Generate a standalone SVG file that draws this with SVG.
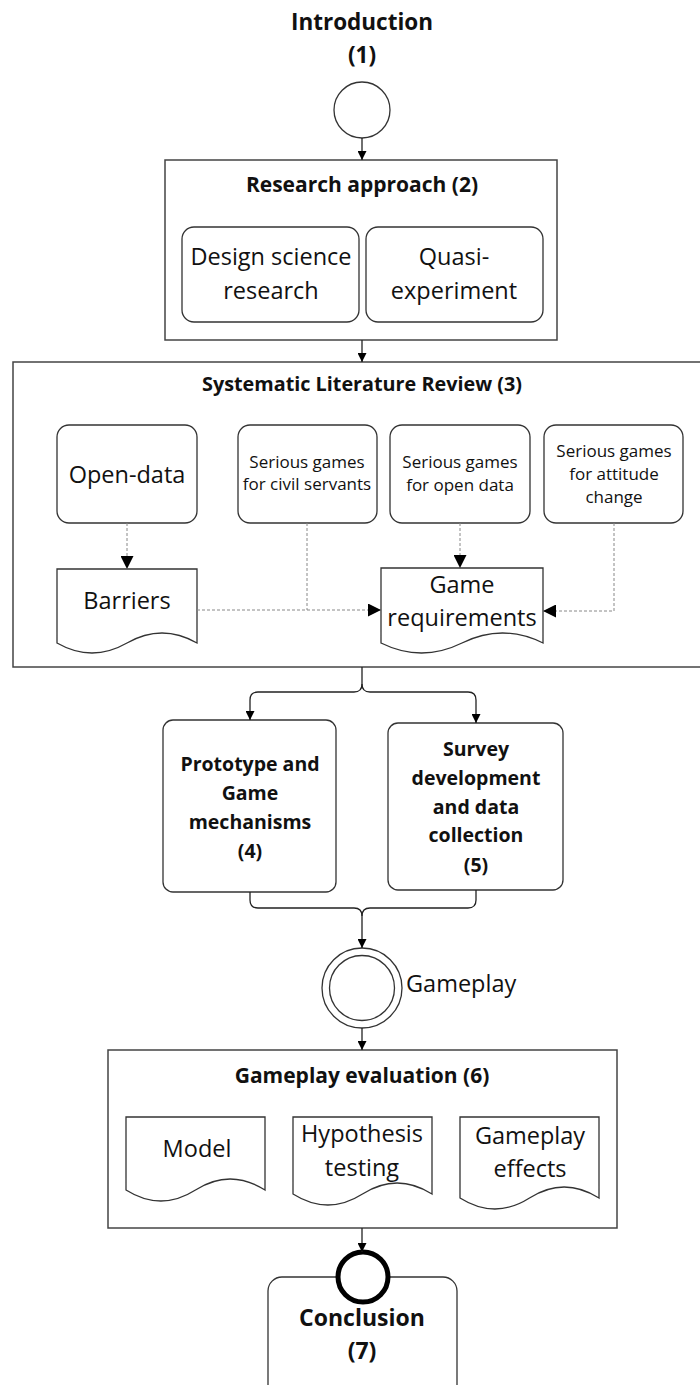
<svg xmlns="http://www.w3.org/2000/svg" width="700" height="1385" viewBox="0 0 700 1385">
  <defs>
    <marker id="arr" viewBox="0 0 10 10" refX="10" refY="5" markerWidth="9" markerHeight="9" markerUnits="userSpaceOnUse" orient="auto">
      <path d="M0,0 L10,5 L0,10 Z" fill="#000"/>
    </marker>
    <marker id="arrL" viewBox="0 0 10 10" refX="10" refY="5" markerWidth="13" markerHeight="13" markerUnits="userSpaceOnUse" orient="auto">
      <path d="M0,0 L10,5 L0,10 Z" fill="#000"/>
    </marker>
  </defs>
  <style>
    text { font-family: "Open Sans", "Noto Sans", "Liberation Sans", sans-serif; fill: #111; text-anchor: middle; }
    .b { font-weight: bold; }
    .h { font-size: 21px; }
    .t { font-size: 19.5px; }
    .m { font-size: 23.5px; }
    .s { font-size: 17px; }
    .frame { fill: #fff; stroke: #444; stroke-width: 1.5; }
    .box { fill: #fff; stroke: #333; stroke-width: 1.3; }
    .flow { fill: none; stroke: #222; stroke-width: 1.3; }
    .dash { fill: none; stroke: #888; stroke-width: 1; stroke-dasharray: 3 2; }
  </style>
  <rect width="700" height="1385" fill="#fff"/>

  <!-- 1 introduction -->
  <g id="intro">
    <text class="b" x="362" y="30" font-size="22.5">Introduction</text>
    <text class="b" x="362" y="63" font-size="22.5">(1)</text>
    <circle cx="362" cy="110" r="28" class="box"/>
  </g>

  <!-- 2 research approach -->
  <g id="research-approach">
    <rect x="165" y="160" width="392" height="180" class="frame"/>
    <text class="b h" x="362" y="192">Research approach (2)</text>
    <rect x="182" y="227" width="177" height="95" rx="12" class="box"/>
    <text class="m" x="271" y="265">Design science</text>
    <text class="m" x="271" y="299">research</text>
    <rect x="366" y="227" width="177" height="95" rx="12" class="box"/>
    <text class="m" x="454" y="265">Quasi-</text>
    <text class="m" x="454" y="299">experiment</text>
  </g>

  <!-- 3 systematic literature review -->
  <g id="slr">
    <rect x="13" y="362" width="700" height="305" class="frame"/>
    <text class="b" font-size="19.8" x="362" y="391">Systematic Literature Review (3)</text>
  </g>
  <g id="open-data">
    <rect x="57" y="425" width="140" height="98" rx="12" class="box"/>
    <text class="m" x="127" y="483">Open-data</text>
  </g>
  <g id="sg-civil">
    <rect x="238" y="425" width="139" height="98" rx="12" class="box"/>
    <text class="s" x="307" y="468">Serious games</text>
    <text class="s" x="307" y="490">for civil servants</text>
  </g>
  <g id="sg-open-data">
    <rect x="390" y="425" width="140" height="98" rx="12" class="box"/>
    <text class="s" x="460" y="468">Serious games</text>
    <text class="s" x="460" y="491">for open data</text>
  </g>
  <g id="sg-attitude">
    <rect x="544" y="425" width="139" height="98" rx="12" class="box"/>
    <text class="s" x="614" y="457">Serious games</text>
    <text class="s" x="614" y="480">for attitude</text>
    <text class="s" x="614" y="503">change</text>
  </g>
  <g id="barriers">
    <path d="M57,569 H197 V643 Q162,623 127,643 T57,643 Z" class="box"/>
    <text class="m" x="127" y="609">Barriers</text>
  </g>
  <g id="game-requirements">
    <path d="M381,568 H543 V643 Q502.5,623 462,643 T381,643 Z" class="box"/>
    <text class="m" x="462" y="593">Game</text>
    <text class="m" x="462" y="626">requirements</text>
  </g>

  <!-- 4 / 5 -->
  <g id="prototype">
    <rect x="163" y="720" width="173" height="172" rx="10" class="box"/>
    <text class="b t" x="250" y="771">Prototype and</text>
    <text class="b t" x="250" y="800">Game</text>
    <text class="b t" x="250" y="829">mechanisms</text>
    <text class="b t" x="250" y="858">(4)</text>
  </g>
  <g id="survey">
    <rect x="388" y="723" width="175" height="167" rx="10" class="box"/>
    <text class="b t" x="476" y="756">Survey</text>
    <text class="b t" x="476" y="785">development</text>
    <text class="b t" x="476" y="814">and data</text>
    <text class="b t" x="476" y="842">collection</text>
    <text class="b t" x="476" y="872">(5)</text>
  </g>

  <!-- gameplay event -->
  <g id="gameplay">
    <circle cx="362" cy="988" r="40" class="box"/>
    <circle cx="362" cy="988" r="32.5" class="box"/>
    <text class="m" x="406" y="992" style="text-anchor:start">Gameplay</text>
  </g>

  <!-- 6 gameplay evaluation -->
  <g id="gameplay-evaluation">
    <rect x="108" y="1050" width="509" height="178" class="frame"/>
    <text class="b h" x="362" y="1083">Gameplay evaluation (6)</text>
  </g>
  <g id="model">
    <path d="M126,1117 H265 V1190 Q230,1168 195.5,1190 T126,1190 Z" class="box"/>
    <text class="m" x="197" y="1157">Model</text>
  </g>
  <g id="hypothesis">
    <path d="M293,1117 H432 V1194 Q397,1172 362.5,1194 T293,1194 Z" class="box"/>
    <text class="m" x="362" y="1142">Hypothesis</text>
    <text class="m" x="362" y="1176">testing</text>
  </g>
  <g id="effects">
    <path d="M460,1117 H599 V1198 Q564,1176 529.5,1198 T460,1198 Z" class="box"/>
    <text class="m" x="530" y="1144">Gameplay</text>
    <text class="m" x="530" y="1177">effects</text>
  </g>

  <!-- 7 conclusion -->
  <g id="conclusion">
    <rect x="268" y="1277" width="189" height="130" rx="14" class="box"/>
    <circle cx="363" cy="1277" r="25" fill="#fff" stroke="#000" stroke-width="5"/>
    <text class="b" font-size="23" x="362" y="1326">Conclusion</text>
    <text class="b" font-size="23" x="362" y="1359">(7)</text>
  </g>

  <!-- connectors -->
  <g id="connectors">
    <path d="M362,138 V160" class="flow" marker-end="url(#arr)"/>
    <path d="M362,340 V362" class="flow" marker-end="url(#arr)"/>
    <!-- dotted links inside the review -->
    <path d="M127,523 V569" class="dash" marker-end="url(#arrL)"/>
    <path d="M460,523 V568" class="dash" marker-end="url(#arrL)"/>
    <path d="M614,523 V611 H543" class="dash" marker-end="url(#arrL)"/>
    <path d="M197,610 H381" class="dash" marker-end="url(#arrL)"/>
    <path d="M307,523 V610" class="dash"/>
    <!-- split to 4 and 5 -->
    <path d="M362,667 V684 Q362,692 354,692 H258 Q250,692 250,700 V720" class="flow" marker-end="url(#arr)"/>
    <path d="M362,684 Q362,692 370,692 H468 Q476,692 476,700 V723" class="flow" marker-end="url(#arr)"/>
    <!-- join into gameplay -->
    <path d="M250,892 V900 Q250,908 258,908 H354 Q362,908 362,916 V948" class="flow" marker-end="url(#arr)"/>
    <path d="M476,890 V900 Q476,908 468,908 H370 Q362,908 362,916" class="flow"/>
    <path d="M362,1028 V1050" class="flow" marker-end="url(#arr)"/>
    <path d="M362,1228 V1252" class="flow" marker-end="url(#arr)"/>
  </g>
</svg>
